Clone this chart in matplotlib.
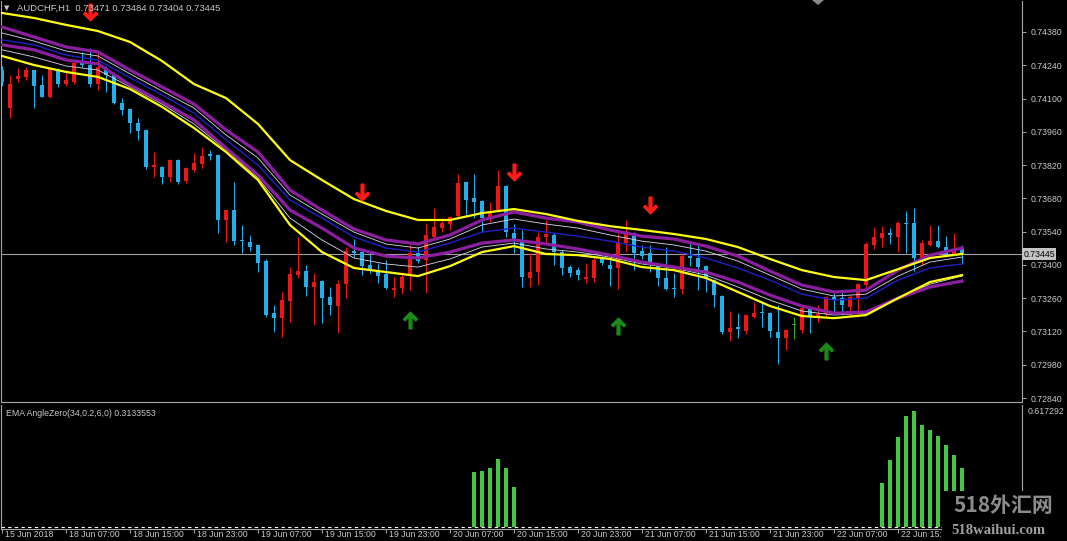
import numpy as np
import matplotlib.pyplot as plt
from matplotlib.path import Path
from matplotlib.patches import Rectangle, Polygon

# AUDCHF H1 candles (open, high, low, close), one hour each, from 15 Jun 2018 23:00
opens = [0.74220, 0.74060, 0.74183, 0.74191, 0.74220, 0.74157, 0.74107, 0.74225, 0.74162, 0.74170,
         0.74250, 0.74241, 0.74162, 0.74229, 0.74204, 0.74082, 0.74056, 0.73997, 0.73968, 0.73812,
         0.73812, 0.73770, 0.73842, 0.73753, 0.73800, 0.73825, 0.73867, 0.73863, 0.73589, 0.73631,
         0.73505, 0.73497, 0.73484, 0.73417, 0.73198, 0.73177, 0.73248, 0.73358, 0.73375, 0.73307,
         0.73333, 0.73265, 0.73227, 0.73320, 0.73459, 0.73455, 0.73400, 0.73375, 0.73362, 0.73295,
         0.73303, 0.73354, 0.73450, 0.73421, 0.73518, 0.73556, 0.73572, 0.73606, 0.73749, 0.73682,
         0.73669, 0.73598, 0.73631, 0.73732, 0.73535, 0.73505, 0.73345, 0.73370, 0.73518, 0.73526,
         0.73455, 0.73391, 0.73379, 0.73341, 0.73345, 0.73425, 0.73400, 0.73387, 0.73492, 0.73535,
         0.73459, 0.73450, 0.73396, 0.73345, 0.73303, 0.73299, 0.73438, 0.73429, 0.73396, 0.73337,
         0.73269, 0.73118, 0.73139, 0.73122, 0.73181, 0.73202, 0.73198, 0.73118, 0.73093, 0.73147,
         0.73126, 0.73215, 0.73185, 0.73194, 0.73265, 0.73261, 0.73223, 0.73261, 0.73316, 0.73484,
         0.73514, 0.73535, 0.73518, 0.73577, 0.73577, 0.73429, 0.73484, 0.73501, 0.73476, 0.73446,
         0.73471]
highs = [0.74237, 0.74199, 0.74229, 0.74233, 0.74222, 0.74199, 0.74228, 0.74229, 0.74220, 0.74262,
         0.74296, 0.74313, 0.74305, 0.74237, 0.74212, 0.74103, 0.74060, 0.74018, 0.73972, 0.73875,
         0.73817, 0.73846, 0.73846, 0.73812, 0.73871, 0.73896, 0.73884, 0.73867, 0.73633, 0.73749,
         0.73568, 0.73526, 0.73486, 0.73425, 0.73232, 0.73286, 0.73391, 0.73518, 0.73400, 0.73366,
         0.73337, 0.73307, 0.73337, 0.73476, 0.73509, 0.73457, 0.73455, 0.73408, 0.73421, 0.73349,
         0.73370, 0.73484, 0.73476, 0.73577, 0.73640, 0.73598, 0.73604, 0.73783, 0.73751, 0.73783,
         0.73673, 0.73665, 0.73800, 0.73736, 0.73572, 0.73547, 0.73450, 0.73539, 0.73589, 0.73535,
         0.73463, 0.73400, 0.73391, 0.73408, 0.73434, 0.73438, 0.73429, 0.73535, 0.73589, 0.73539,
         0.73484, 0.73484, 0.73400, 0.73476, 0.73366, 0.73446, 0.73492, 0.73484, 0.73400, 0.73339,
         0.73274, 0.73206, 0.73198, 0.73194, 0.73244, 0.73240, 0.73202, 0.73232, 0.73131, 0.73181,
         0.73232, 0.73223, 0.73232, 0.73269, 0.73282, 0.73295, 0.73274, 0.73324, 0.73497, 0.73560,
         0.73564, 0.73556, 0.73585, 0.73627, 0.73640, 0.73505, 0.73568, 0.73568, 0.73522, 0.73535,
         0.73484]
lows = [0.74153, 0.74018, 0.74170, 0.74178, 0.74060, 0.74105, 0.74104, 0.74149, 0.74153, 0.74162,
        0.74233, 0.74149, 0.74136, 0.74128, 0.74077, 0.74031, 0.73955, 0.73926, 0.73804, 0.73770,
        0.73741, 0.73749, 0.73741, 0.73745, 0.73791, 0.73808, 0.73842, 0.73535, 0.73497, 0.73484,
        0.73450, 0.73459, 0.73370, 0.73181, 0.73118, 0.73097, 0.73160, 0.73345, 0.73269, 0.73147,
        0.73156, 0.73189, 0.73114, 0.73261, 0.73434, 0.73358, 0.73366, 0.73324, 0.73299, 0.73265,
        0.73278, 0.73295, 0.73408, 0.73282, 0.73514, 0.73539, 0.73547, 0.73602, 0.73610, 0.73598,
        0.73539, 0.73581, 0.73623, 0.73518, 0.73450, 0.73307, 0.73307, 0.73316, 0.73497, 0.73400,
        0.73358, 0.73349, 0.73337, 0.73324, 0.73328, 0.73400, 0.73312, 0.73299, 0.73455, 0.73379,
        0.73425, 0.73370, 0.73312, 0.73295, 0.73265, 0.73278, 0.73396, 0.73295, 0.73286, 0.73223,
        0.73110, 0.73080, 0.73093, 0.73110, 0.73177, 0.73139, 0.73097, 0.72983, 0.73042, 0.73088,
        0.73114, 0.73114, 0.73160, 0.73185, 0.73198, 0.73189, 0.73185, 0.73181, 0.73307, 0.73467,
        0.73476, 0.73488, 0.73455, 0.73450, 0.73375, 0.73400, 0.73480, 0.73471, 0.73442, 0.73442,
        0.73404]
closes = [0.74170, 0.74162, 0.74195, 0.74220, 0.74153, 0.74107, 0.74225, 0.74162, 0.74178, 0.74250,
          0.74241, 0.74162, 0.74233, 0.74199, 0.74082, 0.74052, 0.73997, 0.73964, 0.73812, 0.73821,
          0.73770, 0.73842, 0.73749, 0.73808, 0.73829, 0.73859, 0.73859, 0.73589, 0.73631, 0.73501,
          0.73501, 0.73476, 0.73408, 0.73189, 0.73177, 0.73253, 0.73362, 0.73375, 0.73307, 0.73328,
          0.73261, 0.73232, 0.73320, 0.73459, 0.73450, 0.73396, 0.73379, 0.73354, 0.73303, 0.73303,
          0.73349, 0.73450, 0.73417, 0.73526, 0.73560, 0.73577, 0.73602, 0.73745, 0.73673, 0.73665,
          0.73598, 0.73623, 0.73732, 0.73539, 0.73509, 0.73349, 0.73370, 0.73518, 0.73530, 0.73455,
          0.73387, 0.73366, 0.73358, 0.73349, 0.73421, 0.73408, 0.73383, 0.73497, 0.73535, 0.73450,
          0.73438, 0.73413, 0.73345, 0.73299, 0.73299, 0.73438, 0.73429, 0.73391, 0.73341, 0.73274,
          0.73118, 0.73135, 0.73131, 0.73189, 0.73198, 0.73198, 0.73122, 0.73093, 0.73126, 0.73147,
          0.73219, 0.73185, 0.73194, 0.73265, 0.73253, 0.73232, 0.73265, 0.73320, 0.73488, 0.73518,
          0.73535, 0.73526, 0.73577, 0.73572, 0.73429, 0.73492, 0.73501, 0.73476, 0.73446, 0.73467,
          0.73445]

# channel lines, read every 4th bar
band_idx = list(range(0, 121, 4))
yellow_up = [0.74460, 0.74439, 0.74410, 0.74384, 0.74338, 0.74258, 0.74161, 0.74102, 0.73993, 0.73841,
             0.73757, 0.73677, 0.73627, 0.73589, 0.73589, 0.73618, 0.73635, 0.73614, 0.73585, 0.73563,
             0.73547, 0.73530, 0.73509, 0.73475, 0.73425, 0.73378, 0.73349, 0.73336, 0.73382, 0.73429,
             0.73446]
purple_up = [0.74401, 0.74359, 0.74317, 0.74296, 0.74220, 0.74149, 0.74077, 0.73968, 0.73875, 0.73715,
             0.73631, 0.73551, 0.73505, 0.73488, 0.73526, 0.73589, 0.73623, 0.73597, 0.73580, 0.73547,
             0.73521, 0.73509, 0.73479, 0.73437, 0.73374, 0.73315, 0.73286, 0.73294, 0.73378, 0.73441,
             0.73471]
white_up = [0.74376, 0.74342, 0.74300, 0.74279, 0.74204, 0.74132, 0.74060, 0.73947, 0.73850, 0.73694,
            0.73614, 0.73538, 0.73488, 0.73471, 0.73509, 0.73568, 0.73593, 0.73572, 0.73555, 0.73526,
            0.73500, 0.73484, 0.73458, 0.73416, 0.73357, 0.73298, 0.73269, 0.73277, 0.73353, 0.73412,
            0.73433]
blue_mid = [0.74347, 0.74326, 0.74283, 0.74262, 0.74187, 0.74115, 0.74039, 0.73926, 0.73820, 0.73673,
            0.73597, 0.73517, 0.73471, 0.73454, 0.73492, 0.73538, 0.73555, 0.73538, 0.73521, 0.73500,
            0.73475, 0.73458, 0.73429, 0.73387, 0.73336, 0.73277, 0.73252, 0.73260, 0.73336, 0.73387,
            0.73404]
purple_dn = [0.74326, 0.74305, 0.74262, 0.74246, 0.74157, 0.74086, 0.74010, 0.73892, 0.73778, 0.73631,
             0.73555, 0.73471, 0.73437, 0.73429, 0.73454, 0.73492, 0.73505, 0.73488, 0.73467, 0.73441,
             0.73412, 0.73391, 0.73370, 0.73328, 0.73273, 0.73227, 0.73197, 0.73202, 0.73260, 0.73307,
             0.73332]
white_dn = [0.74305, 0.74275, 0.74237, 0.74220, 0.74149, 0.74077, 0.73993, 0.73884, 0.73766, 0.73597,
            0.73505, 0.73429, 0.73404, 0.73391, 0.73425, 0.73475, 0.73492, 0.73467, 0.73454, 0.73433,
            0.73404, 0.73387, 0.73357, 0.73307, 0.73252, 0.73206, 0.73189, 0.73197, 0.73260, 0.73319,
            0.73353]
yellow_dn = [0.74279, 0.74241, 0.74212, 0.74191, 0.74140, 0.74065, 0.73976, 0.73875, 0.73757, 0.73568,
             0.73454, 0.73387, 0.73370, 0.73353, 0.73395, 0.73454, 0.73479, 0.73446, 0.73441, 0.73425,
             0.73391, 0.73378, 0.73345, 0.73286, 0.73227, 0.73185, 0.73176, 0.73189, 0.73260, 0.73328,
             0.73357]

# signal arrows
sell_idx = [11, 45, 64, 81]
sell_price = [0.74464, 0.73708, 0.73792, 0.73653]
buy_idx = [51, 77, 103]
buy_price = [0.73169, 0.73144, 0.73038]

# EMA AngleZero histogram
ema_idx = [59, 60, 61, 62, 63, 64, 110, 111, 112, 113, 114, 115, 116, 117, 118, 119, 120]
ema_vals = [0.295, 0.300, 0.313, 0.361, 0.313, 0.214, 0.235, 0.354, 0.478, 0.591, 0.617292,
            0.542, 0.514, 0.484, 0.436, 0.382, 0.3133553]

price_ticks = [0.74380, 0.74240, 0.74100, 0.73960, 0.73820, 0.73680, 0.73540, 0.73400,
               0.73260, 0.73120, 0.72980, 0.72840]
time_idx = [0, 8, 16, 24, 32, 40, 48, 56, 64, 72, 80, 88, 96, 104, 112]
time_labels = ["15 Jun 2018", "18 Jun 07:00", "18 Jun 15:00", "18 Jun 23:00", "19 Jun 07:00",
               "19 Jun 15:00", "19 Jun 23:00", "20 Jun 07:00", "20 Jun 15:00", "20 Jun 23:00",
               "21 Jun 07:00", "21 Jun 15:00", "21 Jun 23:00", "22 Jun 07:00", "22 Jun 15:00"]
bid = 0.73445

RED = '#f01414'
BLUE = '#22b0ec'
GREEN = '#2ea82e'
AXC = '#a8a8a8'
TXT = '#c8c8c8'
FONT = 'Liberation Sans'

W, H = 1067, 541
fig = plt.figure(figsize=(W / 100, H / 100), dpi=100, facecolor='black')


def box(x0, y0, x1, y1):
    return [x0 / W, 1 - y1 / H, (x1 - x0) / W, (y1 - y0) / H]


ax = fig.add_axes(box(1, 1, 1022, 402))
ax2 = fig.add_axes(box(1, 405, 1022, 529))
for a in (ax, ax2):
    a.set_facecolor('black')
    a.set_xlim(-0.125, 127.5)
    for s in a.spines.values():
        s.set_color(AXC)
        s.set_linewidth(0.8)
    a.spines['top'].set_visible(False)

# candles
o = np.array(opens)
h = np.array(highs)
l = np.array(lows)
c = np.array(closes)
idx = np.arange(len(o))
cols = np.where(c > o, RED, np.where(c < o, BLUE, GREEN))
ax.vlines(idx, l, h, colors=cols, lw=0.75, zorder=2)
ax.bar(idx, np.maximum(np.abs(c - o), 0.00004), bottom=np.minimum(o, c),
       width=0.62, color=cols, linewidth=0, zorder=3)

# channel
ax.plot(band_idx, white_up, color='#dcdcf0', lw=0.6, zorder=4)
ax.plot(band_idx, white_dn, color='#dcdcf0', lw=0.6, zorder=4)
ax.plot(band_idx, blue_mid, color='#2020c8', lw=1.0, zorder=4)
ax.plot(band_idx, purple_up, color='#8c1ea0', lw=2.3, zorder=5)
ax.plot(band_idx, purple_dn, color='#8c1ea0', lw=2.3, zorder=5)
ax.plot(band_idx, yellow_up, color='#ffff10', lw=1.6, zorder=6)
ax.plot(band_idx, yellow_dn, color='#ffff10', lw=1.6, zorder=6)

# arrows
down = Path([(0, -0.6), (0.5, -0.1), (0.38, 0.02), (0.1, -0.26), (0.1, 0.6),
             (-0.1, 0.6), (-0.1, -0.26), (-0.38, 0.02), (-0.5, -0.1), (0, -0.6)], closed=True)
upar = Path([(x, -y) for x, y in down.vertices], closed=True)
ax.plot(sell_idx, sell_price, ls='none', marker=down, ms=12, color='#ff1a1a', zorder=8)
ax.plot(buy_idx, buy_price, ls='none', marker=upar, ms=12, color='#1a8c1a', zorder=8)

# price axis
ax.set_ylim(0.728232, 0.745104)
ax.yaxis.tick_right()
ax.set_yticks(price_ticks)
ax.set_yticklabels(['%.5f' % p for p in price_ticks], fontsize=6.3, color=TXT, family=FONT)
ax.tick_params(axis='y', length=3, width=0.7, color=AXC, pad=3)
ax.set_xticks([])

ax.axhline(bid, color='#a0a0a0', lw=0.8, zorder=1)
ax.text(1.0015, bid, '%.5f' % bid, transform=ax.get_yaxis_transform(), fontsize=6.3,
        family=FONT, color='black', va='center', ha='left',
        bbox=dict(boxstyle='square,pad=0.15', fc='#c4c4c4', ec='none'), clip_on=False, zorder=9)

# indicator panel
ax2.bar(ema_idx, ema_vals, width=0.38, color='#40c840', linewidth=0, zorder=3)
ax2.axhline(0, color='white', lw=0.8, ls=(0, (3, 3)), zorder=2)
ax2.set_ylim(-0.0105, 0.6488)
ax2.yaxis.tick_right()
ax2.set_yticks([0.617292])
ax2.set_yticklabels(['0.617292'], fontsize=6.3, color=TXT, family=FONT)
ax2.tick_params(axis='y', length=0, pad=4)
ax2.set_xticks(time_idx)
ax2.set_xticklabels([])
ax2.tick_params(axis='x', length=3, width=0.7, color=AXC, direction='out')
for i, lab in zip(time_idx, time_labels):
    ax2.text(i + 0.35, -0.01, lab, transform=ax2.get_xaxis_transform(), fontsize=6.3,
             family=FONT, color=TXT, ha='left', va='top', clip_on=False)

# titles
fig.text(4 / W, 1 - 8 / H, '\u25bc', fontsize=5, color=TXT, va='center', family='DejaVu Sans')
fig.text(17 / W, 1 - 8 / H, 'AUDCHF,H1  0.73471 0.73484 0.73404 0.73445', fontsize=6.8,
         color=TXT, va='center', family=FONT)
fig.text(6 / W, 1 - 413 / H, 'EMA AngleZero(34,0.2,6,0) 0.3133553', fontsize=6.3,
         color=TXT, va='center', family=FONT)
fig.patches.append(Polygon([(812 / W, 1.0), (824 / W, 1.0), (818 / W, 1 - 5 / H)],
                           closed=True, transform=fig.transFigure, fc='#8a8a8a', ec='none'))

# watermark
fig.patches.append(Rectangle((942 / W, 0), (W - 942) / W, 50 / H, transform=fig.transFigure,
                             fc='black', ec='none', zorder=10))
fig.text(1003 / W, 1 - 506 / H, '518外汇网', fontsize=15, color='#8c8c8c', ha='center',
         va='center', style='italic', weight='bold', family=['Noto Sans CJK SC', 'DejaVu Sans'],
         zorder=11)
fig.text(998 / W, 1 - 530 / H, '518waihui.com', fontsize=10.5, color='#a0a0a0', ha='center',
         va='center', weight='bold', family='Liberation Serif', zorder=11)

fig.savefig('out.png', dpi=100, facecolor='black')
